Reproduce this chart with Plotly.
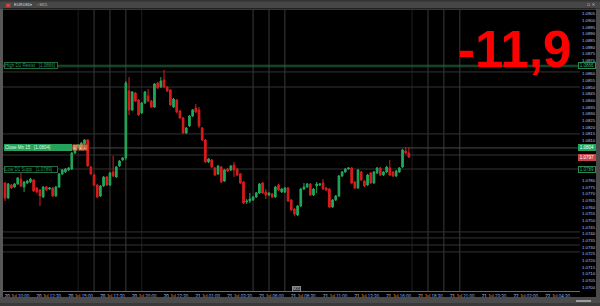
import plotly.graph_objects as go

# ---------------- data ----------------
open_ = [
    1.07780, 1.07668, 1.07765, 1.07750, 1.07773, 1.07810, 1.07750, 1.07780, 1.07788, 1.07803,
    1.07743, 1.07728, 1.07675, 1.07750, 1.07735, 1.07743, 1.07683, 1.07750, 1.07848, 1.07863,
    1.07878, 1.07885, 1.08005, 1.08050, 1.08065, 1.08073, 1.08103, 1.07900, 1.07840, 1.07765,
    1.07683, 1.07758, 1.07825, 1.07765, 1.07863, 1.07825, 1.07908, 1.07953, 1.07968, 1.08470,
    1.08328, 1.08455, 1.08403, 1.08305, 1.08380, 1.08433, 1.08395, 1.08350, 1.08530, 1.08500,
    1.08553, 1.08500, 1.08478, 1.08350, 1.08403, 1.08320, 1.08268, 1.08155, 1.08208, 1.08283,
    1.08343, 1.08328, 1.08193, 1.08103, 1.07938, 1.07953, 1.07893, 1.07848, 1.07900, 1.07795,
    1.07885, 1.07878, 1.07915, 1.07885, 1.07848, 1.07788, 1.07638, 1.07645, 1.07653, 1.07675,
    1.07705, 1.07780, 1.07713, 1.07690, 1.07698, 1.07675, 1.07765, 1.07713, 1.07713, 1.07743,
    1.07653, 1.07585, 1.07540, 1.07608, 1.07735, 1.07750, 1.07773, 1.07690, 1.07758, 1.07765,
    1.07780, 1.07743, 1.07735, 1.07600, 1.07653, 1.07683, 1.07833, 1.07863, 1.07885, 1.07893,
    1.07788, 1.07743, 1.07863, 1.07795, 1.07765, 1.07855, 1.07780, 1.07855, 1.07893, 1.07840,
    1.07863, 1.07893, 1.07863, 1.07833, 1.07863, 1.07900, 1.08020, 1.08005,
]
close = [
    1.07668, 1.07773, 1.07743, 1.07773, 1.07818, 1.07758, 1.07788, 1.07795, 1.07810, 1.07720,
    1.07713, 1.07683, 1.07750, 1.07728, 1.07743, 1.07683, 1.07750, 1.07848, 1.07878, 1.07885,
    1.07893, 1.08005, 1.08050, 1.08065, 1.08080, 1.08103, 1.07908, 1.07848, 1.07765, 1.07675,
    1.07758, 1.07825, 1.07765, 1.07855, 1.07833, 1.07900, 1.07945, 1.07968, 1.08530, 1.08328,
    1.08463, 1.08395, 1.08290, 1.08380, 1.08463, 1.08395, 1.08350, 1.08523, 1.08493, 1.08545,
    1.08500, 1.08470, 1.08365, 1.08410, 1.08313, 1.08268, 1.08155, 1.08193, 1.08283, 1.08328,
    1.08313, 1.08208, 1.08103, 1.07938, 1.07960, 1.07900, 1.07840, 1.07908, 1.07788, 1.07878,
    1.07870, 1.07908, 1.07878, 1.07840, 1.07780, 1.07630, 1.07645, 1.07660, 1.07675, 1.07705,
    1.07773, 1.07705, 1.07690, 1.07705, 1.07675, 1.07750, 1.07728, 1.07735, 1.07743, 1.07645,
    1.07578, 1.07548, 1.07608, 1.07735, 1.07750, 1.07773, 1.07690, 1.07735, 1.07773, 1.07773,
    1.07735, 1.07728, 1.07600, 1.07653, 1.07683, 1.07833, 1.07863, 1.07885, 1.07893, 1.07780,
    1.07743, 1.07878, 1.07803, 1.07758, 1.07840, 1.07780, 1.07863, 1.07893, 1.07840, 1.07863,
    1.07900, 1.07840, 1.07833, 1.07870, 1.07893, 1.08028, 1.08005, 1.07975,
]
high = [
    1.07788, 1.07780, 1.07773, 1.07780, 1.07825, 1.07863, 1.07795, 1.07803, 1.07818, 1.07810,
    1.07750, 1.07735, 1.07758, 1.07758, 1.07750, 1.07750, 1.07758, 1.07855, 1.07885, 1.07893,
    1.07900, 1.08013, 1.08058, 1.08073, 1.08088, 1.08110, 1.08110, 1.07908, 1.07848, 1.07773,
    1.07765, 1.07833, 1.07833, 1.07863, 1.07983, 1.07908, 1.07953, 1.07975, 1.08545, 1.08575,
    1.08470, 1.08463, 1.08410, 1.08388, 1.08470, 1.08485, 1.08403, 1.08530, 1.08538, 1.08575,
    1.08628, 1.08508, 1.08485, 1.08418, 1.08410, 1.08328, 1.08275, 1.08200, 1.08290, 1.08335,
    1.08373, 1.08350, 1.08200, 1.08110, 1.07968, 1.07960, 1.07900, 1.07915, 1.07908, 1.07885,
    1.07893, 1.07915, 1.07938, 1.07893, 1.07855, 1.07795, 1.07660, 1.07705, 1.07683, 1.07713,
    1.07780, 1.07788, 1.07735, 1.07713, 1.07705, 1.07758, 1.07773, 1.07743, 1.07750, 1.07750,
    1.07660, 1.07593, 1.07615, 1.07743, 1.07780, 1.07780, 1.07780, 1.07743, 1.07788, 1.07780,
    1.07810, 1.07750, 1.07743, 1.07660, 1.07690, 1.07840, 1.07870, 1.07893, 1.07900, 1.07900,
    1.07795, 1.07885, 1.07870, 1.07803, 1.07848, 1.07863, 1.07870, 1.07900, 1.07900, 1.07870,
    1.07908, 1.07953, 1.07870, 1.07878, 1.07900, 1.08035, 1.08050, 1.08050,
]
low = [
    1.07645, 1.07660, 1.07735, 1.07743, 1.07765, 1.07750, 1.07713, 1.07773, 1.07780, 1.07713,
    1.07705, 1.07608, 1.07668, 1.07720, 1.07728, 1.07675, 1.07675, 1.07743, 1.07840, 1.07855,
    1.07870, 1.07878, 1.07998, 1.08043, 1.08058, 1.08065, 1.07900, 1.07840, 1.07758, 1.07668,
    1.07675, 1.07750, 1.07758, 1.07758, 1.07825, 1.07818, 1.07900, 1.07945, 1.07953, 1.08290,
    1.08320, 1.08388, 1.08283, 1.08298, 1.08373, 1.08388, 1.08343, 1.08343, 1.08485, 1.08493,
    1.08493, 1.08463, 1.08358, 1.08343, 1.08305, 1.08260, 1.08148, 1.08148, 1.08200, 1.08275,
    1.08305, 1.08193, 1.08095, 1.07930, 1.07930, 1.07893, 1.07833, 1.07840, 1.07780, 1.07788,
    1.07863, 1.07870, 1.07825, 1.07833, 1.07773, 1.07623, 1.07623, 1.07630, 1.07645, 1.07668,
    1.07698, 1.07698, 1.07660, 1.07683, 1.07668, 1.07668, 1.07720, 1.07705, 1.07705, 1.07638,
    1.07570, 1.07533, 1.07533, 1.07600, 1.07728, 1.07743, 1.07683, 1.07683, 1.07705, 1.07758,
    1.07728, 1.07720, 1.07593, 1.07593, 1.07645, 1.07675, 1.07825, 1.07855, 1.07878, 1.07773,
    1.07735, 1.07735, 1.07795, 1.07750, 1.07758, 1.07773, 1.07773, 1.07848, 1.07833, 1.07833,
    1.07855, 1.07833, 1.07825, 1.07825, 1.07855, 1.07893, 1.07998, 1.07968,
]

time_labels = [
    "20 Jul 10:00", "20 Jul 12:30", "20 Jul 15:00", "20 Jul 17:30", "20 Jul 20:00",
    "20 Jul 22:30", "21 Jul 01:00", "21 Jul 03:30", "21 Jul 06:00", "21 Jul 08:30",
    "21 Jul 11:00", "21 Jul 13:30", "21 Jul 16:00", "21 Jul 18:30", "21 Jul 21:00",
    "21 Jul 23:30", "22 Jul 02:00", "22 Jul 04:30",
]
label_every = 10

gray_levels = [1.08613, 1.08500, 1.08148, 1.07990, 1.07885, 1.07413, 1.07368, 1.07315, 1.07263]
close_m15_level = 1.08043
resist_level = 1.08658
support_level = 1.07885
session_marks = [28, 33, 38, 78, 83, 88, 133, 138, 143]
faint_marks = [23, 43, 128]
big_value = "-11,9"

price_min, price_max, price_step = 1.0697, 1.090775, 0.0005

# ---------------- layout geometry ----------------
W, H = 600, 306
ML, MR, MT, MB = 3, 20, 10, 15
PW, PH = W - ML - MR, H - MT - MB


def px_x(px):
    return (px - ML) / PW


def px_y(py):
    return (H - MB - py) / PH


GREEN = "#22a85c"
RED = "#d91c1c"

x = list(range(len(open_)))

fig = go.Figure()
fig.add_trace(go.Candlestick(
    x=x, open=open_, high=high, low=low, close=close,
    increasing=dict(line=dict(color=GREEN, width=1), fillcolor=GREEN),
    decreasing=dict(line=dict(color=RED, width=1), fillcolor=RED),
    whiskerwidth=0, hoverinfo="skip", showlegend=False,
))

shapes = []
for m in faint_marks:
    shapes.append(dict(type="line", xref="x", yref="paper", x0=m, x1=m, y0=0, y1=1,
                       line=dict(color="#1e1e1e", width=1), layer="below"))
for m in session_marks:
    shapes.append(dict(type="line", xref="x", yref="paper", x0=m, x1=m, y0=0, y1=1,
                       line=dict(color="#3a3a3a", width=1), layer="below"))
for lv in gray_levels:
    shapes.append(dict(type="line", xref="paper", yref="y", x0=0, x1=1, y0=lv, y1=lv,
                       line=dict(color="#333333", width=1), layer="below"))
shapes.append(dict(type="line", xref="paper", yref="y", x0=0, x1=1,
                   y0=close_m15_level, y1=close_m15_level,
                   line=dict(color="#4a4a4a", width=1), layer="below"))
shapes.append(dict(type="line", xref="paper", yref="y", x0=0, x1=1,
                   y0=resist_level, y1=resist_level,
                   line=dict(color="rgba(40,120,70,0.35)", width=3), layer="below"))
shapes.append(dict(type="line", xref="paper", yref="y", x0=0, x1=1,
                   y0=resist_level, y1=resist_level,
                   line=dict(color="#1d5c3a", width=1), layer="below"))
shapes.append(dict(type="line", xref="paper", yref="paper", x0=px_x(0), x1=px_x(600),
                   y0=px_y(9.5), y1=px_y(9.5), line=dict(color="#353535", width=1), layer="above"))
frame = [
    (0, 0, 600, 8.5, "#464646"),
    (0, 0, 600, 1.5, "#333333"),
    (0, 8.5, 3, 306, "#575757"),
    (596, 8.5, 600, 306, "#4a4a4a"),
    (0, 297, 600, 306, "#4b4b4b"),
    (0, 303, 600, 306, "#3a3a3a"),
    (576, 300, 591, 302, "#9c9c9c"),
]
for x0, y0, x1, y1, col in frame:
    shapes.append(dict(type="rect", xref="paper", yref="paper",
                       x0=px_x(x0), x1=px_x(x1), y0=px_y(y1), y1=px_y(y0),
                       fillcolor=col, line=dict(width=0), layer="above"))

ann = []
ann.append(dict(text="<b>" + big_value + "</b>", xref="paper", yref="paper",
                x=px_x(514), y=px_y(50), xanchor="center", yanchor="middle", showarrow=False,
                font=dict(family="Liberation Sans, Arial", size=51, color="#ff0000")))

marked_levels = [resist_level, close_m15_level, close[-1], support_level]


def right_label(price, text, bg, border, fc):
    ann.append(dict(text=text, xref="paper", yref="y", x=px_x(586.5), y=price,
                    xanchor="center", yanchor="middle", showarrow=False,
                    bgcolor=bg, bordercolor=border, borderwidth=1, borderpad=0,
                    width=16, height=5,
                    font=dict(family="Liberation Sans", size=4.5, color=fc)))


right_label(resist_level, f"{resist_level:.4f}", "#000000", "#2a8a52", "#3fbf74")
right_label(close_m15_level, f"{close_m15_level:.4f}", "#23a35c", "#23a35c", "#ffffff")
right_label(close[-1], f"{close[-1]:.4f}", "#c8454a", "#c8454a", "#ffffff")
right_label(support_level, f"{support_level:.4f}", "#000000", "#2a8a52", "#3fbf74")


def left_label(price, text, bg, border, fc, w):
    ann.append(dict(text=text, xref="paper", yref="y", x=px_x(4), y=price,
                    xanchor="left", yanchor="middle", showarrow=False, align="left",
                    bgcolor=bg, bordercolor=border, borderwidth=1, borderpad=0,
                    width=w, height=5,
                    font=dict(family="Liberation Sans", size=4.5, color=fc)))


left_label(resist_level, f"High D1 Resist   [{resist_level:.4f}]", "#000000", "#236b43", "#2f9a5e", 52)
left_label(close_m15_level, f"Close Mn 15   [{close_m15_level:.4f}]", "#23a35c", "#23a35c", "#e6f5ea", 66)
left_label(support_level, f"Low D1 Supp   [{support_level:.4f}]", "#000000", "#236b43", "#2f9a5e", 52)
for px, col in [(75, "#d9844e"), (80.5, "#d9844e"), (85.5, "#d2603e")]:
    ann.append(dict(text="+", xref="paper", yref="y", x=px_x(px), y=close_m15_level,
                    xanchor="center", yanchor="middle", showarrow=False,
                    bgcolor=col, borderpad=0, width=4, height=5,
                    font=dict(family="Liberation Sans", size=4, color="#ffffff")))

# toolbar
ann.append(dict(text="\u25a3", xref="paper", yref="paper", x=px_x(8), y=px_y(4.5),
                xanchor="center", yanchor="middle", showarrow=False,
                font=dict(family="DejaVu Sans", size=6, color="#e04040")))
ann.append(dict(text="EURUSD", xref="paper", yref="paper", x=px_x(12), y=px_y(4.5),
                xanchor="left", yanchor="middle", showarrow=False,
                font=dict(family="Liberation Sans", size=4, color="#dddddd")))
ann.append(dict(text="\u25be", xref="paper", yref="paper", x=px_x(28), y=px_y(4.5),
                xanchor="left", yanchor="middle", showarrow=False,
                font=dict(family="DejaVu Sans", size=4, color="#bbbbbb")))
ann.append(dict(text="\u25ab M15", xref="paper", yref="paper", x=px_x(35), y=px_y(4.5),
                xanchor="left", yanchor="middle", showarrow=False,
                font=dict(family="Liberation Sans", size=4, color="#bbbbbb")))
ann.append(dict(text="\u25ab \u00d7", xref="paper", yref="paper", x=px_x(597), y=px_y(4.5),
                xanchor="right", yanchor="middle", showarrow=False,
                font=dict(family="DejaVu Sans", size=4.5, color="#cccccc")))
ann.append(dict(text="M15", xref="paper", yref="paper", x=px_x(296), y=px_y(289),
                xanchor="center", yanchor="middle", showarrow=False,
                bgcolor="#2a2a2a", bordercolor="#888888", borderwidth=1, borderpad=0,
                font=dict(family="Liberation Sans", size=3.5, color="#dddddd")))

# x tick labels
tickvals = [i * label_every for i in range(len(time_labels))]
ticktext = []
for t in time_labels:
    d, mth, hm = t.split(" ")
    ticktext.append(f'<span style="color:#c9d2f0">{d}</span> '
                    f'<span style="color:#e0954a">{mth}</span> '
                    f'<span style="color:#8fb0e8">{hm}</span>')

# y ticks: regular price grid, skipping those hidden behind the price boxes
ytickvals = []
k = 0
while True:
    v = round(1.0700 + k * price_step, 4)
    if v > price_max:
        break
    if all(abs(v - m) > 0.0004 for m in marked_levels):
        ytickvals.append(v)
    k += 1

fig.update_layout(
    width=W, height=H,
    margin=dict(l=ML, r=MR, t=MT, b=MB, pad=0),
    paper_bgcolor="#000000", plot_bgcolor="#000000",
    boxgap=0.25,
    shapes=shapes, annotations=ann,
    xaxis=dict(range=[-0.63, 180.8], rangeslider=dict(visible=False),
               showgrid=False, zeroline=False, showline=True, linecolor="#6a6a6a", linewidth=1,
               tickmode="array", tickvals=tickvals, ticktext=ticktext,
               tickfont=dict(family="Liberation Sans", size=4.5, color="#c9d2f0"),
               ticks="", ticklabelshift=12, ticklabelstandoff=1),
    yaxis=dict(range=[price_min, price_max], side="right", showgrid=False, zeroline=False,
               tickmode="array", tickvals=ytickvals,
               ticktext=[f"{v:.4f} -" for v in ytickvals],
               tickfont=dict(family="Liberation Sans", size=4.3, color="#b9c2e6"),
               ticks="", ticklabelstandoff=1),
    hovermode=False,
)

fig.write_html("out.html")
